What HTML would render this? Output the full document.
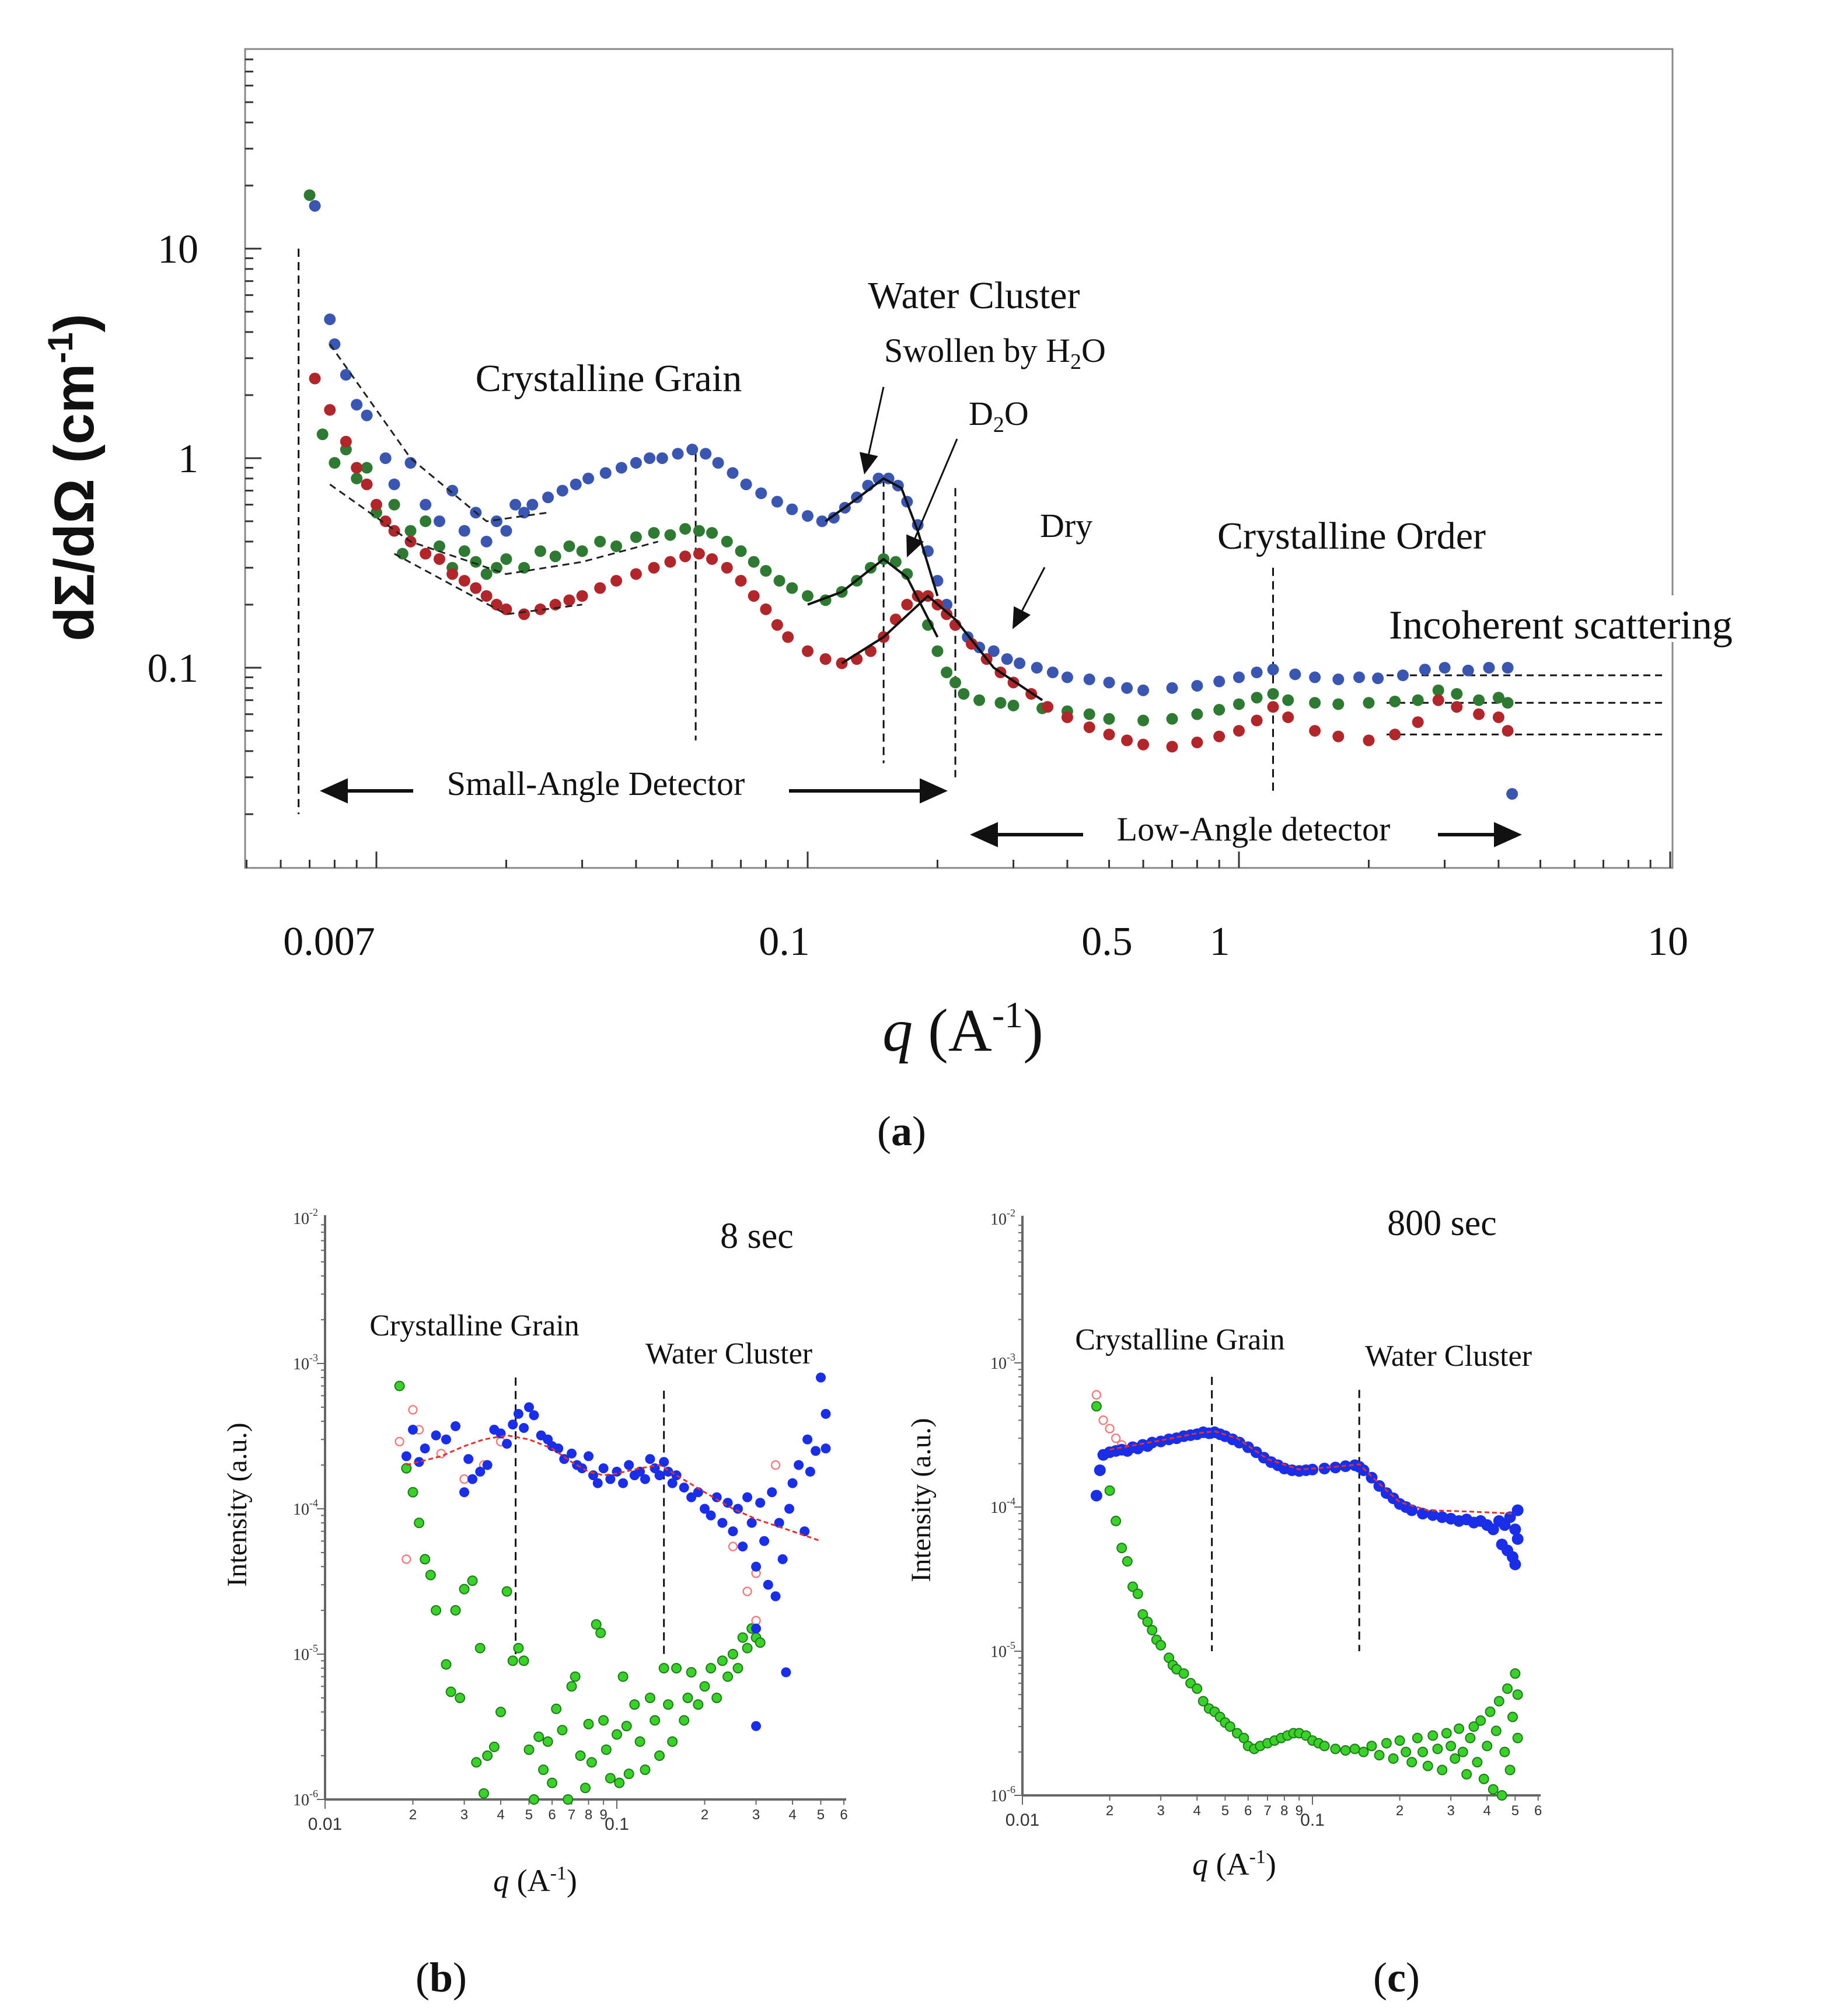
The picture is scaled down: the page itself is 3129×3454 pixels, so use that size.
<!DOCTYPE html>
<html><head><meta charset="utf-8"><style>
html,body{margin:0;padding:0;background:#fff;}
svg{display:block;font-family:"Liberation Serif",serif;}
</style></head><body>
<svg id="fig" width="3129" height="3454" viewBox="0 0 3129 3454" xmlns="http://www.w3.org/2000/svg">
<rect x="0" y="0" width="3129" height="3454" fill="#fff"/>
<g id="pa"></g>
<g id="pb"></g>
<g id="pc"></g>
<g id="ann" fill="#111" font-family="'Liberation Serif',serif">
<text transform="translate(160,818) rotate(-90)" text-anchor="middle" font-family="'Liberation Sans',sans-serif" font-weight="bold" font-size="96">dΣ/dΩ  (cm<tspan font-size="60" dy="-36">-1</tspan><tspan dy="36">)</tspan></text>
<text x="1650" y="1800" text-anchor="middle" font-size="104"><tspan font-style="italic">q</tspan>  (A<tspan font-size="64" dy="-40">-1</tspan><tspan dy="40">)</tspan></text>
<text x="1545" y="1962" text-anchor="middle" font-size="72">(<tspan font-weight="bold">a</tspan>)</text>
<text x="1669" y="528" text-anchor="middle" font-size="66">Water Cluster</text>
<text x="1515" y="620" font-size="58">Swollen by H<tspan font-size="38" dy="12">2</tspan><tspan dy="-12">O</tspan></text>
<text x="1660" y="728" font-size="58">D<tspan font-size="38" dy="12">2</tspan><tspan dy="-12">O</tspan></text>
<text x="1043" y="670" text-anchor="middle" font-size="66">Crystalline Grain</text>
<text x="1782" y="920" font-size="58">Dry</text>
<text x="2316" y="940" text-anchor="middle" font-size="66">Crystalline Order</text>
<rect x="2370" y="1020" width="700" height="80" fill="#fff"/>
<text x="2380" y="1094" font-size="70">Incoherent scattering</text>
<text x="1021" y="1362" text-anchor="middle" font-size="58">Small-Angle Detector</text>
<text x="2148" y="1440" text-anchor="middle" font-size="58">Low-Angle detector</text>
<text x="1297" y="2138" text-anchor="middle" font-size="62">8 sec</text>
<text x="813" y="2288" text-anchor="middle" font-size="52">Crystalline Grain</text>
<text x="1249" y="2336" text-anchor="middle" font-size="52">Water Cluster</text>
<text transform="translate(422,2578) rotate(-90)" text-anchor="middle" font-size="48">Intensity   (a.u.)</text>
<text x="917" y="3240" text-anchor="middle" font-size="54"><tspan font-style="italic">q</tspan>  (A<tspan font-size="34" dy="-20">-1</tspan><tspan dy="20">)</tspan></text>
<text x="756" y="3412" text-anchor="middle" font-size="72">(<tspan font-weight="bold">b</tspan>)</text>
<text x="2471" y="2116" text-anchor="middle" font-size="62">800 sec</text>
<text x="2022" y="2312" text-anchor="middle" font-size="52">Crystalline Grain</text>
<text x="2482" y="2340" text-anchor="middle" font-size="52">Water Cluster</text>
<text transform="translate(1594,2570) rotate(-90)" text-anchor="middle" font-size="48">Intensity   (a.u.)</text>
<text x="2115" y="3212" text-anchor="middle" font-size="54"><tspan font-style="italic">q</tspan>  (A<tspan font-size="34" dy="-20">-1</tspan><tspan dy="20">)</tspan></text>
<text x="2393" y="3412" text-anchor="middle" font-size="72">(<tspan font-weight="bold">c</tspan>)</text>
</g>
</svg>
<script>
// ---------- Panel (a) data ----------
const aBlue=[[0.0072,16],[0.0078,4.6],[0.008,3.5],[0.0085,2.5],[0.009,1.8],[0.0095,1.6],[0.0105,1.0],[0.011,0.75],[0.012,0.95],[0.013,0.6],[0.014,0.5],[0.015,0.7],[0.016,0.45],[0.017,0.55],[0.018,0.4],[0.019,0.5],[0.02,0.45],[0.021,0.6],[0.022,0.55],[0.023,0.6],[0.025,0.65],[0.027,0.7],[0.029,0.75],[0.031,0.8],[0.034,0.85],[0.037,0.9],[0.04,0.95],[0.043,1.0],[0.046,1.0],[0.05,1.05],[0.054,1.1],[0.058,1.05],[0.062,0.95],[0.067,0.85],[0.072,0.75],[0.078,0.68],[0.085,0.62],[0.092,0.57],[0.1,0.53],[0.108,0.5],[0.115,0.52],[0.122,0.58],[0.13,0.65],[0.138,0.74],[0.146,0.8],[0.154,0.8],[0.162,0.74],[0.17,0.62],[0.18,0.48],[0.19,0.36],[0.2,0.26],[0.21,0.2],[0.22,0.16],[0.235,0.14],[0.25,0.125],[0.27,0.12],[0.29,0.11],[0.31,0.105],[0.34,0.1],[0.37,0.095],[0.4,0.09],[0.45,0.088],[0.5,0.085],[0.55,0.08],[0.6,0.078],[0.7,0.08],[0.8,0.082],[0.9,0.086],[1.0,0.09],[1.1,0.095],[1.2,0.098],[1.35,0.093],[1.5,0.09],[1.7,0.088],[1.9,0.09],[2.1,0.089],[2.4,0.092],[2.7,0.098],[3.0,0.1],[3.4,0.097],[3.8,0.1],[4.2,0.1],[4.3,0.025]];
const aGreen=[[0.007,18],[0.0075,1.3],[0.008,0.95],[0.0085,1.1],[0.009,0.8],[0.0095,0.9],[0.01,0.55],[0.011,0.6],[0.0115,0.35],[0.012,0.45],[0.013,0.5],[0.014,0.38],[0.015,0.3],[0.016,0.36],[0.017,0.32],[0.018,0.28],[0.019,0.3],[0.02,0.33],[0.022,0.3],[0.024,0.36],[0.026,0.34],[0.028,0.38],[0.03,0.36],[0.033,0.4],[0.036,0.38],[0.04,0.42],[0.044,0.44],[0.048,0.43],[0.052,0.46],[0.056,0.45],[0.06,0.44],[0.065,0.4],[0.07,0.36],[0.075,0.32],[0.08,0.29],[0.086,0.26],[0.092,0.24],[0.1,0.22],[0.11,0.21],[0.12,0.23],[0.13,0.26],[0.14,0.3],[0.15,0.33],[0.16,0.32],[0.17,0.28],[0.18,0.22],[0.19,0.16],[0.2,0.12],[0.21,0.095],[0.22,0.085],[0.23,0.075],[0.25,0.07],[0.28,0.068],[0.3,0.066],[0.35,0.064],[0.4,0.062],[0.45,0.06],[0.5,0.057],[0.6,0.056],[0.7,0.057],[0.8,0.06],[0.9,0.063],[1.0,0.067],[1.1,0.072],[1.2,0.075],[1.3,0.07],[1.5,0.068],[1.7,0.067],[2.0,0.068],[2.3,0.069],[2.6,0.07],[2.9,0.078],[3.2,0.075],[3.6,0.07],[4.0,0.072],[4.2,0.068]];
const aRed=[[0.0072,2.4],[0.0078,1.7],[0.0085,1.2],[0.009,0.9],[0.0095,0.75],[0.01,0.6],[0.0105,0.5],[0.011,0.45],[0.012,0.4],[0.013,0.35],[0.014,0.33],[0.015,0.28],[0.016,0.26],[0.017,0.24],[0.018,0.22],[0.019,0.2],[0.02,0.19],[0.022,0.18],[0.024,0.19],[0.026,0.2],[0.028,0.21],[0.03,0.22],[0.033,0.24],[0.036,0.26],[0.04,0.28],[0.044,0.3],[0.048,0.32],[0.052,0.34],[0.056,0.35],[0.06,0.33],[0.065,0.3],[0.07,0.26],[0.075,0.22],[0.08,0.19],[0.085,0.16],[0.09,0.14],[0.1,0.12],[0.11,0.11],[0.12,0.105],[0.13,0.11],[0.14,0.12],[0.15,0.14],[0.16,0.17],[0.17,0.2],[0.18,0.22],[0.19,0.22],[0.2,0.2],[0.21,0.18],[0.22,0.16],[0.24,0.13],[0.26,0.11],[0.28,0.095],[0.3,0.085],[0.33,0.075],[0.36,0.065],[0.4,0.058],[0.45,0.052],[0.5,0.048],[0.55,0.045],[0.6,0.043],[0.7,0.042],[0.8,0.044],[0.9,0.047],[1.0,0.05],[1.1,0.056],[1.2,0.065],[1.3,0.058],[1.5,0.05],[1.7,0.047],[2.0,0.045],[2.3,0.048],[2.6,0.055],[2.9,0.07],[3.2,0.065],[3.6,0.06],[4.0,0.058],[4.2,0.05]];
const aFitBlue=[[0.11,0.5],[0.13,0.64],[0.15,0.8],[0.165,0.72],[0.18,0.45],[0.2,0.22]];
const aFitGreen=[[0.1,0.2],[0.12,0.23],[0.15,0.33],[0.17,0.27],[0.2,0.14]];
const aFitRed=[[0.12,0.105],[0.15,0.14],[0.19,0.22],[0.22,0.17],[0.27,0.1],[0.35,0.07]];
const aDashFits=[[[0.0078,3.5],[0.012,1.0],[0.018,0.5],[0.025,0.55]],[[0.0078,0.75],[0.012,0.4],[0.02,0.28],[0.03,0.32],[0.045,0.4]],[[0.011,0.35],[0.02,0.18],[0.03,0.2]]];
const aLevels=[0.092,0.068,0.048];
const aVLines=[[0.0066,10,0.02],[0.055,1.05,0.045],[0.15,0.8,0.035],[0.22,0.72,0.03],[1.2,0.3,0.025]];
const aXTickLabels=["0.007","0.1","0.5","1","10"];
const aXTickPos=[564,1344,1897,2090,2858];
const aYTickVals=[10,1,0.1];
const aYTickLabels=["10","1","0.1"];
// ---------- Panel (b) data ----------
const bBlue=[[0.019,2.3e-4],[0.02,3.5e-4],[0.021,2.1e-4],[0.022,2.6e-4],[0.024,3.2e-4],[0.026,3e-4],[0.028,3.7e-4],[0.03,1.3e-4],[0.031,2.2e-4],[0.032,1.6e-4],[0.034,1.8e-4],[0.036,2e-4],[0.038,3.5e-4],[0.04,3.3e-4],[0.042,2.8e-4],[0.044,3.8e-4],[0.046,4.5e-4],[0.048,3.6e-4],[0.05,5e-4],[0.052,4.4e-4],[0.055,3.2e-4],[0.058,3e-4],[0.06,2.7e-4],[0.063,2.6e-4],[0.066,2.2e-4],[0.07,2.4e-4],[0.073,2e-4],[0.076,1.9e-4],[0.08,2.3e-4],[0.083,1.7e-4],[0.086,1.5e-4],[0.09,1.9e-4],[0.095,1.6e-4],[0.1,1.8e-4],[0.105,1.5e-4],[0.11,2e-4],[0.115,1.7e-4],[0.12,1.8e-4],[0.125,1.6e-4],[0.13,2.2e-4],[0.135,1.9e-4],[0.14,1.7e-4],[0.145,2.1e-4],[0.15,1.8e-4],[0.155,1.5e-4],[0.16,1.7e-4],[0.17,1.4e-4],[0.18,1.2e-4],[0.19,1.3e-4],[0.2,1e-4],[0.21,0.9e-4],[0.22,1.2e-4],[0.23,0.8e-4],[0.24,1.1e-4],[0.25,0.7e-4],[0.26,1e-4],[0.27,0.55e-4],[0.28,1.2e-4],[0.29,0.8e-4],[0.3,0.4e-4],[0.3,0.15e-4],[0.3,3.2e-6],[0.31,1.1e-4],[0.32,0.6e-4],[0.33,0.3e-4],[0.34,1.3e-4],[0.35,2.5e-5],[0.36,0.8e-4],[0.37,0.45e-4],[0.38,7.5e-6],[0.39,1e-4],[0.4,1.5e-4],[0.42,2e-4],[0.44,0.7e-4],[0.45,3e-4],[0.46,1.8e-4],[0.48,2.5e-4],[0.5,8e-4],[0.52,4.5e-4],[0.52,2.6e-4]];
const bGreen=[[0.018,7e-4],[0.019,1.9e-4],[0.02,1.3e-4],[0.021,8e-5],[0.022,4.5e-5],[0.023,3.5e-5],[0.024,2e-5],[0.026,8.5e-6],[0.027,5.5e-6],[0.028,2e-5],[0.029,5e-6],[0.03,2.8e-5],[0.032,3.2e-5],[0.033,1.8e-6],[0.034,1.1e-5],[0.035,1.1e-6],[0.036,2e-6],[0.038,2.3e-6],[0.04,4e-6],[0.042,2.7e-5],[0.044,9e-6],[0.046,1.1e-5],[0.048,9e-6],[0.05,2.2e-6],[0.052,1e-6],[0.054,2.7e-6],[0.056,1.6e-6],[0.058,2.5e-6],[0.06,1.3e-6],[0.062,4.2e-6],[0.065,3e-6],[0.068,1e-6],[0.07,6e-6],[0.072,7e-6],[0.075,2e-6],[0.078,1.2e-6],[0.08,3.3e-6],[0.082,1.8e-6],[0.085,1.6e-5],[0.088,1.4e-5],[0.09,3.5e-6],[0.092,2.2e-6],[0.095,1.4e-6],[0.1,2.8e-6],[0.102,1.3e-6],[0.105,7e-6],[0.108,3.2e-6],[0.11,1.5e-6],[0.115,4.5e-6],[0.12,2.5e-6],[0.125,1.6e-6],[0.13,5e-6],[0.135,3.5e-6],[0.14,2e-6],[0.145,8e-6],[0.15,4.5e-6],[0.155,2.5e-6],[0.16,8e-6],[0.17,3.5e-6],[0.175,5e-6],[0.18,7.5e-6],[0.19,4.5e-6],[0.2,6e-6],[0.21,8e-6],[0.22,5e-6],[0.23,9e-6],[0.24,7e-6],[0.25,1e-5],[0.26,8e-6],[0.27,1.3e-5],[0.28,1.1e-5],[0.29,1.5e-5],[0.3,1.3e-5],[0.31,1.2e-5]];
const bRedOpen=[[0.018,2.9e-4],[0.019,4.5e-5],[0.02,4.8e-4],[0.021,3.5e-4],[0.025,2.4e-4],[0.03,1.6e-4],[0.035,2e-4],[0.04,2.9e-4],[0.25,5.5e-5],[0.3,3.6e-5],[0.28,2.7e-5],[0.3,1.7e-5],[0.35,2e-4]];
const bFitQ=[0.019,0.025,0.03,0.035,0.042,0.05,0.06,0.07,0.08,0.09,0.1,0.12,0.14,0.16,0.2,0.25,0.3,0.4,0.5];
const bFitI=[2e-4,2.3e-4,2.7e-4,3e-4,3.2e-4,3e-4,2.6e-4,2.1e-4,1.8e-4,1.7e-4,1.75e-4,1.9e-4,2e-4,1.7e-4,1.3e-4,1e-4,0.85e-4,0.7e-4,0.6e-4];
// ---------- Panel (c) data ----------
const cBlue=[[0.018,1.2e-4],[0.0185,1.8e-4],[0.019,2.3e-4],[0.02,2.4e-4],[0.021,2.45e-4],[0.022,2.5e-4],[0.023,2.45e-4],[0.024,2.6e-4],[0.025,2.55e-4],[0.026,2.7e-4],[0.027,2.65e-4],[0.028,2.8e-4],[0.03,2.85e-4],[0.032,2.95e-4],[0.034,3e-4],[0.036,3.1e-4],[0.038,3.15e-4],[0.04,3.2e-4],[0.042,3.3e-4],[0.044,3.25e-4],[0.046,3.3e-4],[0.048,3.2e-4],[0.05,3.1e-4],[0.053,2.95e-4],[0.056,2.8e-4],[0.06,2.6e-4],[0.064,2.4e-4],[0.068,2.2e-4],[0.072,2.05e-4],[0.076,1.95e-4],[0.08,1.85e-4],[0.085,1.8e-4],[0.09,1.78e-4],[0.095,1.8e-4],[0.1,1.82e-4],[0.11,1.85e-4],[0.12,1.88e-4],[0.13,1.92e-4],[0.14,1.95e-4],[0.145,1.9e-4],[0.15,1.8e-4],[0.16,1.6e-4],[0.17,1.4e-4],[0.18,1.25e-4],[0.19,1.15e-4],[0.2,1.05e-4],[0.21,1e-4],[0.22,0.95e-4],[0.24,0.9e-4],[0.26,0.88e-4],[0.28,0.85e-4],[0.3,0.83e-4],[0.32,0.8e-4],[0.34,0.82e-4],[0.36,0.78e-4],[0.38,0.8e-4],[0.4,0.75e-4],[0.42,0.7e-4],[0.44,0.8e-4],[0.45,0.55e-4],[0.46,0.75e-4],[0.47,0.5e-4],[0.48,0.85e-4],[0.49,0.45e-4],[0.5,0.7e-4],[0.5,0.4e-4],[0.51,0.95e-4],[0.51,0.6e-4]];
const cGreen=[[0.018,5e-4],[0.019,2.3e-4],[0.02,1.3e-4],[0.021,8e-5],[0.022,5.2e-5],[0.023,4.2e-5],[0.024,2.8e-5],[0.025,2.5e-5],[0.026,1.8e-5],[0.027,1.6e-5],[0.028,1.4e-5],[0.029,1.2e-5],[0.03,1.1e-5],[0.032,9e-6],[0.033,8e-6],[0.034,7.5e-6],[0.036,7e-6],[0.038,6e-6],[0.04,5.5e-6],[0.042,4.5e-6],[0.044,4e-6],[0.046,3.8e-6],[0.048,3.5e-6],[0.05,3.2e-6],[0.052,3e-6],[0.055,2.7e-6],[0.058,2.5e-6],[0.06,2.2e-6],[0.063,2.1e-6],[0.066,2.2e-6],[0.07,2.3e-6],[0.074,2.4e-6],[0.078,2.5e-6],[0.082,2.6e-6],[0.086,2.7e-6],[0.09,2.7e-6],[0.095,2.6e-6],[0.1,2.4e-6],[0.105,2.3e-6],[0.11,2.2e-6],[0.12,2.1e-6],[0.13,2.05e-6],[0.14,2.1e-6],[0.15,2e-6],[0.16,2.2e-6],[0.17,1.9e-6],[0.18,2.3e-6],[0.19,1.8e-6],[0.2,2.4e-6],[0.21,2e-6],[0.22,1.7e-6],[0.23,2.5e-6],[0.24,2e-6],[0.25,1.6e-6],[0.26,2.6e-6],[0.27,2.1e-6],[0.28,1.5e-6],[0.29,2.7e-6],[0.3,2.2e-6],[0.31,1.8e-6],[0.32,2.9e-6],[0.33,2e-6],[0.34,1.4e-6],[0.35,2.5e-6],[0.36,3e-6],[0.37,1.7e-6],[0.38,3.3e-6],[0.39,1.3e-6],[0.4,2.2e-6],[0.41,3.8e-6],[0.42,1.1e-6],[0.43,2.8e-6],[0.44,4.5e-6],[0.45,1e-6],[0.46,2e-6],[0.47,5.5e-6],[0.48,1.5e-6],[0.49,3.5e-6],[0.5,7e-6],[0.51,5e-6],[0.51,2.5e-6]];
const cRedOpen=[[0.018,6e-4],[0.019,4e-4],[0.02,3.5e-4],[0.021,3e-4],[0.022,2.7e-4],[0.024,2.6e-4],[0.026,2.7e-4]];
const cFitQ=[0.02,0.03,0.04,0.046,0.055,0.07,0.09,0.12,0.145,0.17,0.2,0.25,0.35,0.5];
const cFitI=[2.5e-4,2.9e-4,3.25e-4,3.35e-4,3e-4,2.15e-4,1.82e-4,1.9e-4,1.98e-4,1.45e-4,1.08e-4,0.95e-4,0.93e-4,0.9e-4];
const bcYExp=[-2,-3,-4,-5,-6];

const NS="http://www.w3.org/2000/svg";
const L=Math.log10;
function mk(tag,attrs,parent){const e=document.createElementNS(NS,tag);for(const k in attrs)e.setAttribute(k,attrs[k]);parent.appendChild(e);return e;}
const xa=q=>645+739*(L(q)+2), ya=v=>785-359*L(v);
const xb=q=>557+500*(L(q)+2), yb=v=>3083-249*(L(v)+6);
const xc=q=>1752+497*(L(q)+2), yc=v=>3076-247*(L(v)+6);

const pa=document.getElementById('pa');
let fr=mk('rect',{x:420,y:84,width:2446,height:1403,fill:'none',stroke:'#888','stroke-width':3},pa);


for(let d=-3;d<=1;d++){for(let m=1;m<10;m++){const q=m*Math.pow(10,d);const x=xa(q);if(x<420||x>2868)continue;
 const t=mk('line',{x1:x,x2:x,y1:1487,y2:1487-(m===1?28:14),stroke:'#333','stroke-width':3},pa);
 
 }}
for(let d=-2;d<=1;d++){for(let m=1;m<10;m++){const v=m*Math.pow(10,d);const y=ya(v);if(y<84||y>1487)continue;
 const t=mk('line',{x1:420,x2:420+(m===1?28:14),y1:y,y2:y,stroke:'#333','stroke-width':3},pa);
 
 }}
aYTickVals.forEach((v,i)=>{const t=mk('text',{x:340,y:ya(v)+24,'text-anchor':'end','font-size':70,fill:'#111'},pa);t.textContent=aYTickLabels[i];
 
 });
aXTickLabels.forEach((s,i)=>{const t=mk('text',{x:aXTickPos[i],y:1636,'text-anchor':'middle','font-size':70,fill:'#111'},pa);t.textContent=s;
 
 });
aVLines.forEach(v=>{const l=mk('line',{x1:xa(v[0]),x2:xa(v[0]),y1:ya(v[1]),y2:ya(v[2]),stroke:'#111','stroke-width':3,'stroke-dasharray':'14,9'},pa);
 
 });
aLevels.forEach(v=>{const l=mk('line',{x1:xa(2.2),x2:2850,y1:ya(v),y2:ya(v),stroke:'#111','stroke-width':3,'stroke-dasharray':'12,8'},pa);
 
 });
const series=[[aBlue,'#3a56b0','blue'],[aGreen,'#2f7a33','green'],[aRed,'#b0262a','red']];
series.forEach(s=>{s[0].forEach(p=>{const c=mk('circle',{cx:xa(p[0]),cy:ya(p[1]),r:10,fill:s[1]},pa);
 
 });});
function poly(pts,fx,fy,attrs,parent,name){const d=pts.map((p,i)=>(i?'L':'M')+fx(p[0]).toFixed(1)+','+fy(p[1]).toFixed(1)).join(' ');const e=mk('path',Object.assign({d:d,fill:'none'},attrs),parent);
 
 return e;}
[aFitBlue,aFitGreen,aFitRed].forEach(f=>poly(f,xa,ya,{stroke:'#111','stroke-width':4},pa,'fit-curve-a'));
aDashFits.forEach(f=>poly(f,xa,ya,{stroke:'#222','stroke-width':3,'stroke-dasharray':'12,8'},pa,'powerlaw-fit-a'));
function arrow(x1,y1,x2,y2,w,head,name){const g=mk('g',{},pa);
 
 
 const a=Math.atan2(y2-y1,x2-x1);const bx=x2-head*Math.cos(a),by=y2-head*Math.sin(a);
 mk('line',{x1:x1,y1:y1,x2:bx,y2:by,stroke:'#111','stroke-width':w},g);
 const px=Math.sin(a)*head*0.45,py=-Math.cos(a)*head*0.45;
 mk('polygon',{points:`${x2},${y2} ${bx+px},${by+py} ${bx-px},${by-py}`,fill:'#111'},g);}
arrow(708,1355,548,1355,6,48,'arrow-small-left');
arrow(1352,1355,1624,1355,6,48,'arrow-small-right');
arrow(1856,1430,1662,1430,6,48,'arrow-low-left');
arrow(2464,1430,2608,1430,6,48,'arrow-low-right');
arrow(1514,663,1481,813,3,36,'arrow-swollen');
arrow(1640,752,1554,955,3,36,'arrow-d2o');
arrow(1790,972,1735,1078,3,36,'arrow-dry');

function smallPanel(id,fx,fy,left,bottom,right,blue,green,redOpen,fq,fi,vq,tag){
 const g=document.getElementById(id);
 let ax=mk('line',{x1:left,y1:fy(1e-2)-5,x2:left,y2:bottom,stroke:'#666','stroke-width':4},g);
 
 
 ax=mk('line',{x1:left,y1:bottom,x2:right,y2:bottom,stroke:'#666','stroke-width':4},g);
 
 
 for(let e=-6;e<-2;e++)for(let m=1;m<10;m++){const y=fy(m*Math.pow(10,e));
  const t=mk('line',{x1:left-(m===1?14:7),x2:left,y1:y,y2:y,stroke:'#666','stroke-width':2},g);
  
  }
 bcYExp.forEach(e=>{const t=mk('text',{x:left-12,y:fy(Math.pow(10,e))+10,'text-anchor':'end','font-size':28,fill:'#333'},g);
  t.innerHTML='10<tspan font-size="18" dy="-14">'+e+'</tspan>';
  
  });
 for(let d=-2;d<=-1;d++)for(let m=1;m<10;m++){const q=m*Math.pow(10,d);const x=fx(q);if(x>right+5)continue;
  const t=mk('line',{x1:x,x2:x,y1:bottom,y2:bottom+(m===1?16:9),stroke:'#666','stroke-width':2},g);
  
  
  const lb=mk('text',{x:x,y:m===1?bottom+52:bottom+34,'text-anchor':'middle','font-size':m===1?30:24,fill:'#333','font-family':"'Liberation Sans',sans-serif"},g);
  lb.textContent=m===1?(d===-2?'0.01':'0.1'):String(m);
  
  }
 vq.forEach(v=>{const l=mk('line',{x1:fx(v[0]),x2:fx(v[0]),y1:fy(v[1]),y2:fy(v[2]),stroke:'#111','stroke-width':3,'stroke-dasharray':'14,9'},g);
  
  });
 green.forEach(p=>{const c=mk('circle',{cx:fx(p[0]),cy:fy(p[1]),r:8,fill:'#3ad12a',stroke:'#1f7a1a','stroke-width':2},g);
  
  });
 redOpen.forEach(p=>{const c=mk('circle',{cx:fx(p[0]),cy:fy(p[1]),r:7,fill:'none',stroke:'#f08080','stroke-width':2.5},g);
  
  });
 blue.forEach(p=>{const c=mk('circle',{cx:fx(p[0]),cy:fy(p[1]),r:tag==='c'?10:8.5,fill:'#1a2ee8'},g);
  
  });
 const pts=fq.map((q,i)=>[q,fi[i]]);
 poly(pts,fx,fy,{stroke:'#e03030','stroke-width':3,'stroke-dasharray':'8,5'},g,'fit-line-'+tag);
}
smallPanel('pb',xb,yb,557,3083,1450,bBlue,bGreen,bRedOpen,bFitQ,bFitI,[[0.045,8e-4,1e-5],[0.145,6.5e-4,1e-5]],'b');
smallPanel('pc',xc,yc,1752,3076,2640,cBlue,cGreen,cRedOpen,cFitQ,cFitI,[[0.045,8e-4,1e-5],[0.145,6.5e-4,1e-5]],'c');
</script>
</body></html>
